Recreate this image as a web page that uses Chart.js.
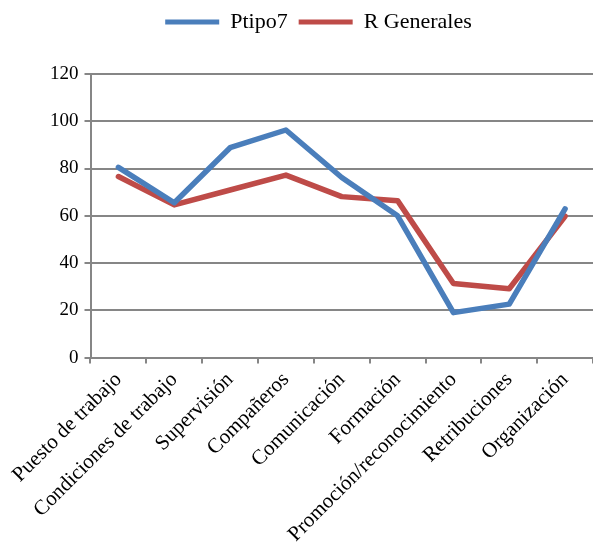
<!DOCTYPE html>
<html>
<head>
<meta charset="utf-8">
<script src="https://cdn.jsdelivr.net/npm/chart.js@4/dist/chart.umd.min.js"></script>
<style>
  html, body { margin: 0; padding: 0; background: #fff; }
  #wrap { width: 593px; height: 555px; }
</style>
</head>
<body>
<div id="wrap"><canvas id="chart"></canvas></div>
<script>
// categories and series
const categories = [
  "Puesto de trabajo", "Condiciones de trabajo", "Supervisión", "Compañeros",
  "Comunicación", "Formación", "Promoción/reconocimiento", "Retribuciones", "Organización"
];
const ptipo7 = [80.5, 65.5, 88.8, 96.3, 76.2, 60, 19, 22.6, 62.9];
const generales = [76.6, 64.6, 70.9, 77.2, 68.1, 66.4, 31.3, 29.1, 59.8];
const yTicks = [0, 20, 40, 60, 80, 100, 120];

const BLUE = "#4a7ebb";
const RED = "#be4b48";
const GRID = "#868686";
const FONT = "'Liberation Serif', 'DejaVu Serif', serif";

// leave some room under the legend, like the original
const legendGap = {
  id: "legendGap",
  beforeInit(chart) {
    const fit = chart.legend.fit;
    chart.legend.fit = function () {
      fit.bind(chart.legend)();
      this.height += 31;
    };
  }
};

new Chart(document.getElementById("chart"), {
  type: "line",
  data: {
    labels: categories,
    datasets: [
      { label: "Ptipo7", data: ptipo7, borderColor: BLUE, backgroundColor: BLUE,
        borderWidth: 5.5, pointRadius: 0, tension: 0, borderJoinStyle: "round", borderCapStyle: "round" },
      { label: "R Generales", data: generales, borderColor: RED, backgroundColor: RED,
        borderWidth: 5.5, pointRadius: 0, tension: 0, borderJoinStyle: "round", borderCapStyle: "round" }
    ]
  },
  plugins: [legendGap],
  options: {
    responsive: true,
    maintainAspectRatio: false,
    animation: false,
    layout: { padding: { left: 44, right: 0, top: 0, bottom: 4 } },
    plugins: {
      tooltip: { enabled: false },
      legend: {
        position: "top",
        labels: {
          font: { family: FONT, size: 22 },
          color: "#000",
          boxWidth: 54,
          boxHeight: 5,
          padding: 11,
          generateLabels: function (chart) {
            return chart.data.datasets.map(function (ds, i) {
              return { text: ds.label, fillStyle: ds.borderColor, strokeStyle: ds.borderColor,
                lineWidth: 0, datasetIndex: i, fontColor: "#000" };
            });
          }
        }
      }
    },
    scales: {
      x: {
        offset: true,
        grid: { offset: true, drawOnChartArea: false, color: GRID, lineWidth: 2, tickLength: 6 },
        border: { color: GRID, width: 2 },
        ticks: {
          autoSkip: false, maxRotation: 45, minRotation: 45,
          font: { family: FONT, size: 21 }, color: "#000", padding: 4
        }
      },
      y: {
        min: 0, max: 120,
        afterBuildTicks: function (axis) { axis.ticks = yTicks.map(v => ({ value: v })); },
        grid: { color: GRID, lineWidth: 2, tickLength: 6 },
        border: { color: GRID, width: 2 },
        ticks: { font: { family: FONT, size: 19 }, color: "#000", padding: 6 }
      }
    }
  }
});
</script>
</body>
</html>
